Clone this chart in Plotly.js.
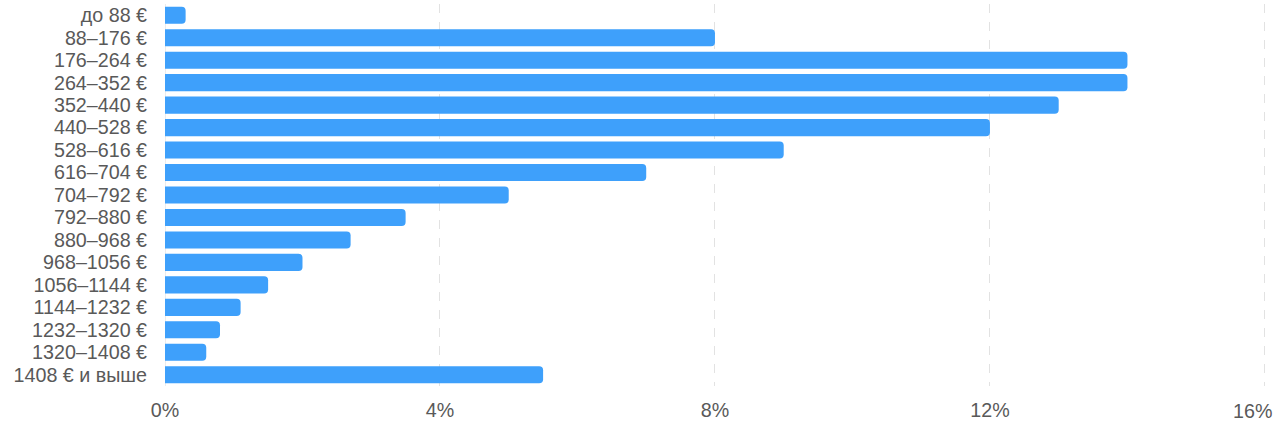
<!DOCTYPE html>
<html><head><meta charset="utf-8">
<script src="https://cdn.plot.ly/plotly-3.0.1.min.js"></script>
<style>html,body{margin:0;padding:0;background:#fff}#c{width:1282px;height:434px}</style>
</head><body><div id="c"></div>
<script>
const categories = ["до 88 €","88–176 €","176–264 €","264–352 €","352–440 €","440–528 €","528–616 €","616–704 €","704–792 €","792–880 €","880–968 €","968–1056 €","1056–1144 €","1144–1232 €","1232–1320 €","1320–1408 €","1408 € и выше"];
const shares = [0.3, 8.0, 14.0, 14.0, 13.0, 12.0, 9.0, 7.0, 5.0, 3.5, 2.7, 2.0, 1.5, 1.1, 0.8, 0.6, 5.5];
const tickValues = [0, 4, 8, 12, 16];
const tickLabels = ["0%", "4%", "8%", "12%", "16%"];

const lastIdx = tickValues.length - 1;
Plotly.newPlot("c", [{
  type: "bar", orientation: "h",
  y: categories, x: shares,
  marker: {color: "#3ea0fb"},
  hoverinfo: "none"
}], {
  width: 1282, height: 434,
  margin: {l: 165, r: 15, t: 4, b: 48},
  paper_bgcolor: "#fff", plot_bgcolor: "#fff",
  bargap: 0.24, barcornerradius: 4,
  font: {family: "Liberation Sans, Arial, sans-serif", size: 19.7, color: "#595959"},
  showlegend: false,
  xaxis: {
    range: [0, 16.03], tickmode: "array", tickvals: tickValues,
    ticktext: tickLabels.map((t, i) => i === lastIdx ? "" : t),
    ticklabeloverflow: "allow",
    showgrid: true, gridcolor: "#e2e2e2", griddash: "dash", gridwidth: 1,
    zeroline: true, zerolinecolor: "#ececec", zerolinewidth: 1,
    showline: false, ticks: "outside", ticklen: 6, tickcolor: "rgba(0,0,0,0)",
    fixedrange: true
  },
  yaxis: {
    type: "category", autorange: "reversed",
    tickmode: "array", tickvals: categories, ticktext: categories,
    showgrid: false, zeroline: false, showline: false,
    ticks: "outside", ticklen: 13, tickcolor: "rgba(0,0,0,0)",
    fixedrange: true
  },
  annotations: [{
    xref: "x", yref: "paper", x: tickValues[lastIdx], y: 0,
    text: tickLabels[lastIdx], showarrow: false,
    xanchor: "right", yanchor: "top", xshift: 9, yshift: -12,
    font: {family: "Liberation Sans, Arial, sans-serif", size: 19.7, color: "#595959"}
  }]
}, {staticPlot: true, displayModeBar: false});
</script></body></html>
